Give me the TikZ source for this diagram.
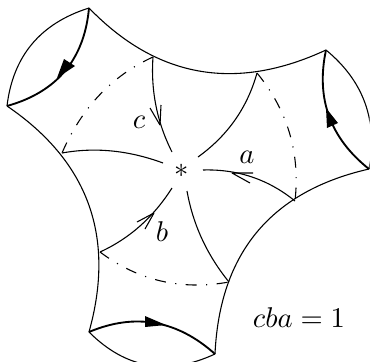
\documentclass[tikz,border=0pt]{standalone}
\usetikzlibrary{calc}
\tikzset{
  thinedge/.style={line width=0.38pt,line join=round},
  thickedge/.style={line width=0.65pt},
  dashdot/.style={line width=0.38pt,dash pattern=on 3.85pt off 3.3pt on 0.4pt off 3.3pt},
  lab/.style={inner sep=0pt,outer sep=0pt}
}
% curve from #2 through its midpoint #3 to #4
\newcommand\qarc[4][thinedge]{\draw[#1] (#2) .. controls ($1.3333*(#3)-0.3333*(#4)$) and ($1.3333*(#3)-0.3333*(#2)$) .. (#4);}
\begin{document}
\begin{tikzpicture}[x=0.35pt,y=-0.35pt]
\useasboundingbox (0,0) rectangle (370,362);
% vertices
\coordinate (A) at (89,8);
\coordinate (B) at (7,106);
\coordinate (C) at (326,50);
\coordinate (D) at (369,169);
\coordinate (E) at (89,332);
\coordinate (F) at (215,354);
% spoke feet
\coordinate (pc) at (153,57);
\coordinate (pu) at (257,73);
\coordinate (pa) at (295,201);
\coordinate (pl) at (229,282);
\coordinate (pb) at (100,252);
\coordinate (pw) at (62,153);
% boundary arcs
\qarc{A}{199,71}{C}
\qarc{B}{88.5,204}{E}
\qarc{D}{257,232}{F}
% outer thin arcs, cut at the page edge
\begin{scope}
\clip (0,0) rectangle (369.6,361.4);
\qarc{A}{32,44}{B}
\qarc{C}{365,103}{D}
\qarc{E}{148,365}{F}
\end{scope}
% thick arcs with big arrowheads
\qarc[thickedge]{A}{65,71}{B}
\qarc[thickedge]{C}{329,116}{D}
\qarc[thickedge]{E}{155,323}{F}
\fill (57,78) -- (64,59) -- (75,66) -- cycle;
\fill (326,108) -- (327,128) -- (338,123) -- cycle;
\fill (166,325) -- (145,316) -- (145,327) -- cycle;
% spokes
\qarc{203,170}{252,177}{pa}
\qarc{pu}{235,120}{198,157}
\qarc{pc}{156,106}{172,152}
\qarc{pw}{112,151}{163,163}
\qarc{pb}{140,226}{172,188}
\qarc{187,191}{202,239}{pl}
% barbs on the loops
\draw[thinedge] (253,173) -- (232,173) -- (250,183);
\draw[thinedge] (150,108) -- (160,125) -- (161,105);
\draw[thinedge] (137,222) -- (154,213) -- (145,229);
% dash-dot arcs
\qarc[dashdot]{pc}{99.5,95}{pw}
\qarc[dashdot]{pu}{289.5,133}{pa}
\qarc[dashdot]{pb}{161,281}{pl}
% labels
\node[lab] (star) at (182,171) {$*$};
\node[lab] (la) at (247,157) {$a$};
\node[lab] (lb) at (162,232) {$b$};
\node[lab] (lc) at (139,122) {$c$};
\node[lab,anchor=base] (eq) at (299,327) {$cba=1$};
\end{tikzpicture}
\end{document}
